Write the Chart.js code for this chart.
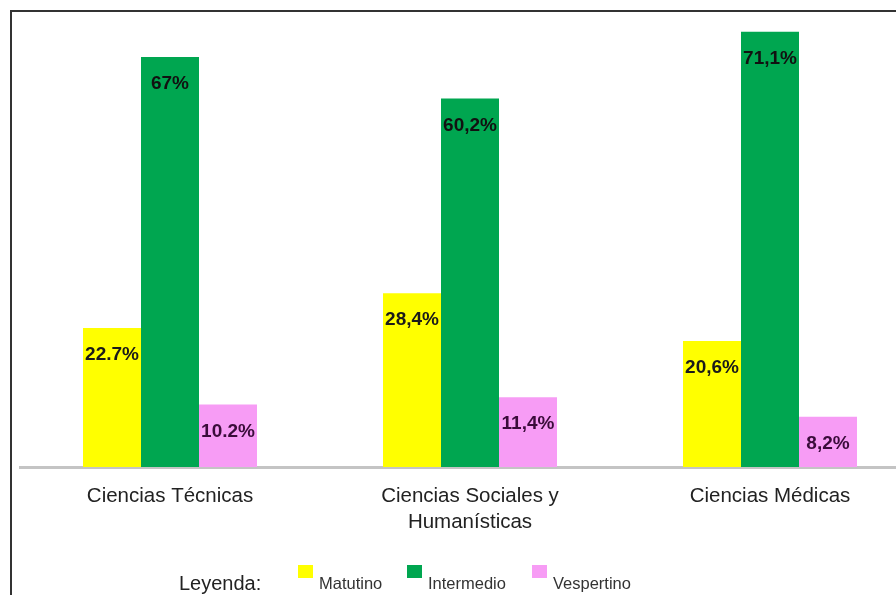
<!DOCTYPE html>
<html>
<head>
<meta charset="utf-8">
<script src="https://cdn.jsdelivr.net/npm/chart.js@4"></script>
<style>
  html, body { margin: 0; padding: 0; background: #fff; overflow: hidden; }
  #wrap { position: relative; width: 896px; height: 595px; overflow: hidden; }
  #frame { position: absolute; left: 10px; top: 10px; width: 920px; height: 620px;
           border-left: 2px solid #333; border-top: 2px solid #333; pointer-events: none; }
  canvas { position: absolute; left: 0; top: 0; }
</style>
</head>
<body>
<div id="wrap">
  <canvas id="grafico" width="940" height="595"></canvas>
  <div id="frame"></div>
</div>
<script>
const categorias = [["Ciencias Técnicas"], ["Ciencias Sociales y", "Humanísticas"], ["Ciencias Médicas"]];
const matutino = [22.7, 28.4, 20.6];
const intermedio = [67, 60.2, 71.1];
const vespertino = [10.2, 11.4, 8.2];
const etiquetasMatutino = ["22.7%", "28,4%", "20,6%"];
const etiquetasIntermedio = ["67%", "60,2%", "71,1%"];
const etiquetasVespertino = ["10.2%", "11,4%", "8,2%"];

// etiquetas dentro de cada barra, un poco bajo el borde superior
const etiquetasPlugin = {
  id: "etiquetas",
  afterDatasetsDraw(chart) {
    const ctx = chart.ctx;
    ctx.save();
    ctx.font = "bold 19px 'Liberation Sans', Arial, sans-serif";
    ctx.textAlign = "center";
    ctx.textBaseline = "middle";
    chart.data.datasets.forEach((ds, i) => {
      const meta = chart.getDatasetMeta(i);
      meta.data.forEach((bar, j) => {
        ctx.fillStyle = ds.labelColor;
        ctx.fillText(ds.etiquetas[j], bar.x, bar.y + 27);
      });
    });
    ctx.restore();
  }
};

// leyenda a mano: "Leyenda:" y cajitas un poco por encima del texto
const leyendaPlugin = {
  id: "leyenda",
  afterDraw(chart) {
    const ctx = chart.ctx;
    ctx.save();
    ctx.fillStyle = "#222";
    ctx.textBaseline = "middle";
    ctx.font = "20px 'Liberation Sans', Arial, sans-serif";
    ctx.fillText("Leyenda:", 179, 584);
    const cajas = [298, 407, 532];
    ctx.font = "16.5px 'Liberation Sans', Arial, sans-serif";
    chart.data.datasets.forEach((ds, i) => {
      ctx.fillStyle = ds.backgroundColor;
      ctx.fillRect(cajas[i], 565, 15, 13);
      ctx.fillStyle = "#333";
      ctx.fillText(ds.label, cajas[i] + 21, 584);
    });
    ctx.restore();
  }
};

const ctx = document.getElementById("grafico").getContext("2d");
new Chart(ctx, {
  type: "bar",
  data: {
    labels: categorias,
    datasets: [
      { label: "Matutino", data: matutino, backgroundColor: "#ffff00", etiquetas: etiquetasMatutino, labelColor: "#1a1a1a" },
      { label: "Intermedio", data: intermedio, backgroundColor: "#00a650", etiquetas: etiquetasIntermedio, labelColor: "#111" },
      { label: "Vespertino", data: vespertino, backgroundColor: "#f79cf5", etiquetas: etiquetasVespertino, labelColor: "#3a0c3a" }
    ]
  },
  options: {
    responsive: false,
    animation: false,
    layout: { padding: { left: 20, right: 20, top: 8, bottom: 0 } },
    datasets: { bar: { categoryPercentage: 0.58, barPercentage: 1.0 } },
    plugins: { legend: { display: false }, tooltip: { enabled: false } },
    scales: {
      x: {
        grid: { display: false, drawTicks: false },
        border: { display: true, color: "#c4c4c4", width: 3 },
        ticks: {
          color: "#222",
          padding: 17,
          font: { family: "'Liberation Sans', Arial, sans-serif", size: 20.5, lineHeight: 1.25 }
        },
        afterFit: s => { s.height = 128; }
      },
      y: { display: false, min: 0, max: 75 }
    }
  },
  plugins: [etiquetasPlugin, leyendaPlugin]
});
</script>
</body>
</html>
